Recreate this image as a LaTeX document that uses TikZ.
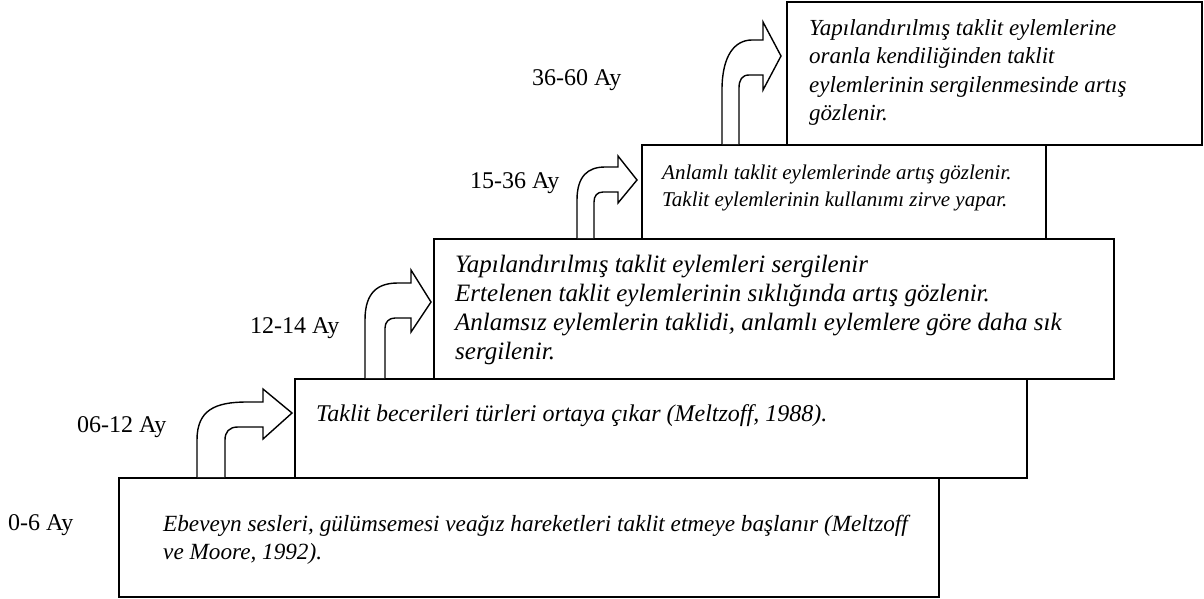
\documentclass[tikz,border=0pt]{standalone}
\usepackage{fontspec}
\setmainfont{Liberation Serif}
\begin{document}
\begin{tikzpicture}[x=1pt,y=-1pt,
  stagebox/.style={draw=black,line width=1.6pt,fill=white,inner sep=0pt,anchor=north west},
  stagetext/.style={anchor=base west,inner sep=0pt,align=left,font=\fontsize{24}{28.6}\selectfont\itshape},
  agelabel/.style={anchor=west,inner sep=0pt,font=\fontsize{24}{28}\selectfont},
  bent/.style={draw=black,line width=1.4pt,fill=white,line join=miter}]
\useasboundingbox (0,0) rectangle (1204,598);
% boxes (bottom to top)
\node[stagebox,minimum width=820pt,minimum height=119pt] (b1) at (118,477) {};
\node[stagebox,minimum width=732pt,minimum height=99pt] (b2) at (294,378) {};
\node[stagebox,minimum width=680pt,minimum height=140pt] (b3) at (433,238) {};
\node[stagebox,minimum width=404pt,minimum height=94pt] (b4) at (641,144) {};
\node[stagebox,minimum width=415pt,minimum height=143pt] (b5) at (786,1) {};
% texts (anchored at the baseline of the last line)
\node[stagetext,font=\fontsize{23.2}{28.6}\selectfont\itshape] (t1) at (163,559.6) {Ebeveyn sesleri, gülümsemesi veağız hareketleri taklit etmeye başlanır (Meltzoff\\ve Moore, 1992).};
\node[stagetext] (t2) at (316,421) {Taklit becerileri türleri ortaya çıkar (Meltzoff, 1988).};
\node[stagetext,font=\fontsize{25}{28.7}\selectfont\itshape] (t3) at (455,359) {Yapılandırılmış taklit eylemleri sergilenir\\Ertelenen taklit eylemlerinin sıklığında artış gözlenir.\\Anlamsız eylemlerin taklidi, anlamlı eylemlere göre daha sık\\sergilenir.};
\node[stagetext,font=\fontsize{21}{27.4}\selectfont\itshape] (t4) at (662,206.6) {Anlamlı taklit eylemlerinde artış gözlenir.\\Taklit eylemlerinin kullanımı zirve yapar.};
\node[stagetext,font=\fontsize{23}{28.6}\selectfont\itshape] (t5) at (809,120.8) {Yapılandırılmış taklit eylemlerine\\oranla kendiliğinden taklit\\eylemlerinin sergilenmesinde artış\\gözlenir.};
% age labels
\node[agelabel] (a1) at (8,525) {0-6 Ay};
\node[agelabel] (a2) at (77,427) {06-12 Ay};
\node[agelabel] (a3) at (250,328) {12-14 Ay};
\node[agelabel] (a4) at (470,183) {15-36 Ay};
\node[agelabel] (a5) at (532,80) {36-60 Ay};
% bent arrows
\draw[bent] (197,477) -- (197,440) .. controls (197,410) and (215,402) .. (247,402) -- (263,402) -- (263,389) -- (292,413) -- (263,439) -- (263,427) -- (238,427) .. controls (229,427) and (225,432) .. (225,440) -- (225,477);
\draw[bent] (365,378) -- (365,320) .. controls (365,292) and (378,283) .. (398,283) -- (411,283) -- (411,270) -- (431,302) -- (411,332) -- (411,318) -- (395,318) .. controls (389,318) and (385,322) .. (385,328) -- (385,378);
\draw[bent] (577,238) -- (577,200) .. controls (577,176) and (588,167) .. (605,167) -- (618,167) -- (618,156) -- (637,180) -- (618,203) -- (618,192) -- (603,192) .. controls (597,192) and (594,196) .. (594,202) -- (594,238);
\draw[bent] (722,144) -- (722,90) .. controls (722,55) and (735,40) .. (752,40) -- (763,40) -- (763,22) -- (781,56) -- (763,90) -- (763,75) -- (749,75) .. controls (742,75) and (739,80) .. (739,88) -- (739,144);
\end{tikzpicture}
\end{document}
